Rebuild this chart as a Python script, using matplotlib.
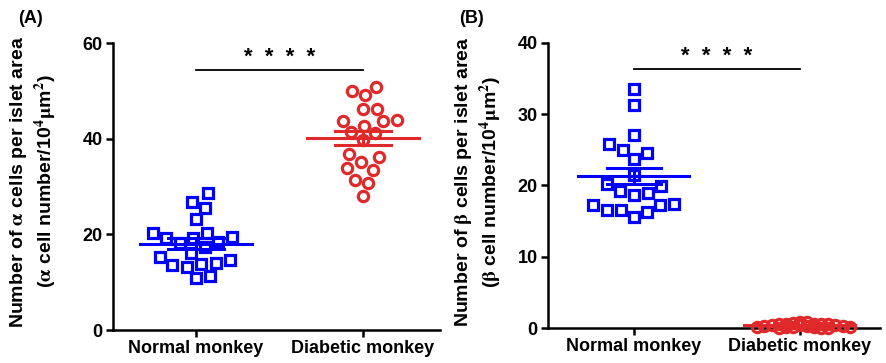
import numpy as np
import matplotlib
matplotlib.use("Agg")
import matplotlib.pyplot as plt

plt.rcParams["font.family"] = ["Liberation Sans", "DejaVu Sans"]
plt.rcParams["font.weight"] = "bold"
plt.rcParams["mathtext.fontset"] = "stix"

# ------------------------------------------------------------
# data
# ------------------------------------------------------------
groups = ["Normal monkey", "Diabetic monkey"]

alpha_normal = [28.6, 26.8, 25.6, 23.3, 20.2, 20.3, 19.2, 19.2, 19.4, 18.3, 18.1,
                17.3, 16.2, 15.3, 13.9, 14.6, 13.2, 14.1, 13.5, 10.9, 11.3]
alpha_diabetic = [50.9, 50.0, 49.1, 46.3, 46.2, 43.6, 42.7, 43.6, 43.9, 41.1,
                  41.3, 39.7, 36.8, 36.1, 35.2, 33.5, 33.8, 31.4, 30.7, 28.0]

beta_normal = [33.5, 31.3, 27.1, 25.8, 24.6, 25.0, 23.7, 21.4, 19.9, 20.2,
               18.9, 19.2, 18.6, 17.4, 17.3, 16.5, 15.5, 16.3, 16.5, 17.3]
beta_diabetic = [0.2, 0.4, 0.0, 0.5, 0.8, 0.3, 0.1, 0.6, 0.9, 0.3, 0.2,
                 0.5, 0.7, 0.4, 0.0, 0.2, 0.6, 0.3, 0.5, 0.1, 0.4, 0.0]

BLUE = "#0000ff"
RED = "#e0292b"


def swarm_offsets(ax, values, diam_px, half_width_px=None, top_first=False):
    """simple beeswarm in display pixels, returns offsets in data x-units"""
    vals = np.asarray(values, dtype=float)
    ys = ax.transData.transform(np.column_stack([np.zeros(len(vals)), vals]))[:, 1]
    order = np.argsort(ys)
    if top_first:
        order = order[::-1]
    placed = []
    xs = np.zeros(len(vals))
    for i in order:
        y = ys[i]
        cands = [0.0]
        for px, py in placed:
            dy = y - py
            if abs(dy) < diam_px:
                dx = np.sqrt(diam_px ** 2 - dy ** 2)
                cands += [px + dx, px - dx]
        cands = sorted(cands, key=abs)
        for c in cands:
            if all((c - px) ** 2 + (y - py) ** 2 >= diam_px ** 2 - 1e-6 for px, py in placed):
                break
        placed.append((c, y))
        xs[i] = c
    # squeeze / stretch the swarm to a fixed width (graphpad-like overlapping)
    if half_width_px is not None and np.abs(xs).max() > 0:
        xs = xs * half_width_px / np.abs(xs).max()
    unit = ax.transData.transform([[1, 0]])[0, 0] - ax.transData.transform([[0, 0]])[0, 0]
    return xs / unit


def draw_panel(ax, data, markers, colors, ymax, yticks, star_y, line_y, xlim, swarm_opts):
    ax.set_ylim(0, ymax)
    ax.set_xlim(*xlim)
    for i, (vals, mk, col) in enumerate(zip(data, markers, colors)):
        off = swarm_offsets(ax, vals, **swarm_opts[i])
        ax.plot(i + off, vals, linestyle="none", marker=mk, markersize=7.4,
                markerfacecolor="none", markeredgecolor=col, markeredgewidth=2.3,
                clip_on=False, zorder=3)
        m = np.mean(vals)
        sem = np.std(vals, ddof=1) / np.sqrt(len(vals))
        ax.plot([i - 0.335, i + 0.335], [m, m], color=col, lw=2.2, zorder=4)
        ax.plot([i - 0.165, i + 0.165], [m + sem, m + sem], color=col, lw=2.2, zorder=4)
        ax.plot([i - 0.165, i + 0.165], [m - sem, m - sem], color=col, lw=2.2, zorder=4)
        ax.plot([i, i], [m - sem, m + sem], color=col, lw=2.2, zorder=4)

    ax.plot([0, 1], [line_y, line_y], color="black", lw=1.3)
    ax.text(0.5, star_y, "*  *  *  *", ha="center", va="center", fontsize=16,
            fontweight="bold")

    ax.set_yticks(yticks)
    ax.set_xticks([0, 1])
    ax.set_xticklabels(groups)
    for s in ["top", "right"]:
        ax.spines[s].set_visible(False)
    for s in ["left", "bottom"]:
        ax.spines[s].set_linewidth(1.8)
    ax.tick_params(width=1.8, length=5, labelsize=13, pad=2.5)
    for lab in ax.get_xticklabels() + ax.get_yticklabels():
        lab.set_fontweight("bold")


fig = plt.figure(figsize=(8.87, 3.63), dpi=100)
axA = fig.add_axes([0.1274, 0.0909, 0.3687, 0.7906])
axB = fig.add_axes([0.6178, 0.0964, 0.374, 0.786])

draw_panel(axA, [alpha_normal, alpha_diabetic], ["s", "o"], [BLUE, RED],
           60, [0, 20, 40, 60], 57.0, 54.4, (-0.497, 1.461),
           [dict(diam_px=14.5), dict(diam_px=14.0)])

draw_panel(axB, [beta_normal, beta_diabetic], ["s", "o"], [BLUE, RED],
           40, [0, 10, 20, 30, 40], 38.0, 36.3, (-0.518, 1.482),
           [dict(diam_px=14.5), dict(diam_px=3.5, half_width_px=50, top_first=True)])

ylab_kw = dict(rotation=90, ha="center", va="center", fontsize=14, fontweight="bold",
               multialignment="center", linespacing=1.2)
fig.text(0.038, 0.5, "Number of $\\mathrm{\\alpha}$ cells per islet area\n"
         "($\\mathrm{\\alpha}$ cell number/10$^4$$\\mathrm{\\mu}$m$^2$)", **ylab_kw)
fig.text(0.539, 0.5, "Number of $\\mathrm{\\beta}$ cells per islet area\n"
         "($\\mathrm{\\beta}$ cell number/10$^4$$\\mathrm{\\mu}$m$^2$)", **ylab_kw)

fig.text(0.034, 0.95, "(A)", ha="center", va="center", fontsize=13, fontweight="bold")
fig.text(0.532, 0.95, "(B)", ha="center", va="center", fontsize=13, fontweight="bold")

fig.savefig("out.png", dpi=100)
plt.close(fig)
